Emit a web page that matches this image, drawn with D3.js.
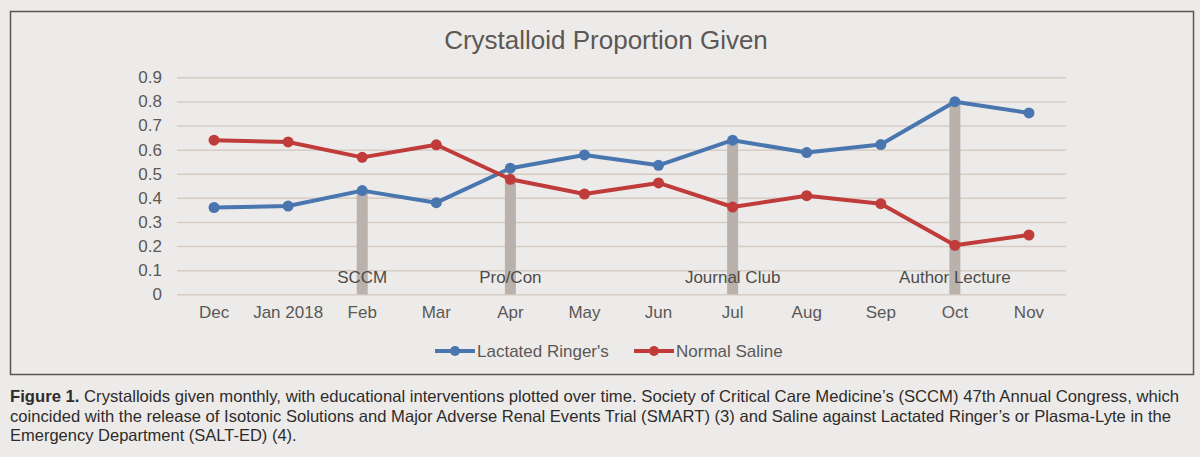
<!DOCTYPE html>
<html>
<head>
<meta charset="utf-8">
<script src="https://cdn.jsdelivr.net/npm/d3@7"></script>
<style>
body { margin: 0; background: #edebe9; }
svg { display: block; font-family: "Liberation Sans", Arial, sans-serif; }
</style>
</head>
<body>
<svg id="chart"></svg>
<script>
var months = ["Dec", "Jan 2018", "Feb", "Mar", "Apr", "May", "Jun", "Jul", "Aug", "Sep", "Oct", "Nov"];
var lactatedRinger = [0.36, 0.366, 0.43, 0.38, 0.523, 0.578, 0.535, 0.639, 0.588, 0.621, 0.799, 0.752];
var normalSaline = [0.639, 0.632, 0.568, 0.62, 0.477, 0.416, 0.462, 0.362, 0.409, 0.376, 0.203, 0.246];
var interventionMonths = ["Feb", "Apr", "Jul", "Oct"];
var interventionNames = ["SCCM", "Pro/Con", "Journal Club", "Author Lecture"];
var interventionValues = [0.43, 0.48, 0.64, 0.80];
var yTicks = [0, 0.1, 0.2, 0.3, 0.4, 0.5, 0.6, 0.7, 0.8, 0.9];
var yTickLabels = ["0", "0.1", "0.2", "0.3", "0.4", "0.5", "0.6", "0.7", "0.8", "0.9"];
var seriesNames = ["Lactated Ringer's", "Normal Saline"];
var captionLines = [
  ["Figure 1.", " Crystalloids given monthly, with educational interventions plotted over time. Society of Critical Care Medicine\u2019s (SCCM) 47th Annual Congress, which"],
  ["", "coincided with the release of Isotonic Solutions and Major Adverse Renal Events Trial (SMART) (3) and Saline against Lactated Ringer\u2019s or Plasma-Lyte in the"],
  ["", "Emergency Department (SALT-ED) (4)."]
];

var width = 1200;
var height = 457;
var blue = "#4a76b0";
var red = "#c03c3b";
var textColor = "#5b5856";

var svg = d3.select("#chart")
  .attr("width", width)
  .attr("height", height);

svg.append("rect")
  .attr("width", width)
  .attr("height", height)
  .attr("fill", "#edebe9");

// frame round the chart
svg.append("rect")
  .attr("x", 10.5)
  .attr("y", 11.5)
  .attr("width", 1183)
  .attr("height", 363)
  .attr("fill", "none")
  .attr("stroke", "#5a5654")
  .attr("stroke-width", 1.5);

var x = d3.scaleBand()
  .domain(months)
  .range([177, 1066]);

var y = d3.scaleLinear()
  .domain([0, 0.9])
  .range([294.3, 77.3]);

var xc = function(m) { return x(m) + x.bandwidth() / 2; };

svg.append("text")
  .text("Crystalloid Proportion Given")
  .attr("x", 606)
  .attr("y", 49)
  .attr("text-anchor", "middle")
  .attr("font-size", 26)
  .attr("fill", textColor);

// gridlines + y labels
var yAxis = svg.append("g")
  .attr("transform", "translate(177,0)")
  .call(d3.axisLeft(y)
    .tickValues(yTicks)
    .tickSize(-889)
    .tickPadding(15)
    .tickFormat(function(d, i) { return yTickLabels[i]; }));
yAxis.select(".domain").remove();
yAxis.selectAll("line")
  .attr("stroke", "#d6ccc4")
  .attr("stroke-width", 1.5);
yAxis.selectAll("text")
  .attr("font-size", 17)
  .attr("font-family", "Liberation Sans, Arial, sans-serif")
  .attr("fill", textColor);

var xAxis = svg.append("g")
  .attr("transform", "translate(0,294.3)")
  .call(d3.axisBottom(x).tickSize(0).tickPadding(12));
xAxis.select(".domain").remove();
xAxis.selectAll("text")
  .attr("font-size", 17)
  .attr("font-family", "Liberation Sans, Arial, sans-serif")
  .attr("fill", textColor);

// intervention bars
svg.selectAll(".bar")
  .data(interventionMonths)
  .enter()
  .append("rect")
  .attr("class", "bar")
  .attr("x", function(d) { return xc(d) - 5.5; })
  .attr("y", function(d, i) { return y(interventionValues[i]); })
  .attr("width", 11)
  .attr("height", function(d, i) { return y(0) - y(interventionValues[i]); })
  .attr("fill", "#b9b2ac");

svg.selectAll(".ilabel")
  .data(interventionMonths)
  .enter()
  .append("text")
  .attr("class", "ilabel")
  .attr("x", function(d) { return xc(d); })
  .attr("y", 283)
  .attr("text-anchor", "middle")
  .attr("font-size", 17)
  .attr("fill", "#4e4b49")
  .text(function(d, i) { return interventionNames[i]; });

var line = d3.line()
  .x(function(d, i) { return xc(months[i]); })
  .y(function(d) { return y(d); });

var series = [lactatedRinger, normalSaline];
var colors = [blue, red];

series.forEach(function(vals, k) {
  svg.append("path")
    .datum(vals)
    .attr("d", line)
    .attr("fill", "none")
    .attr("stroke", colors[k])
    .attr("stroke-width", 4)
    .attr("stroke-linejoin", "round");
  svg.selectAll(".pt" + k)
    .data(vals)
    .enter()
    .append("circle")
    .attr("class", "pt" + k)
    .attr("cx", function(d, i) { return xc(months[i]); })
    .attr("cy", function(d) { return y(d); })
    .attr("r", 5.5)
    .attr("fill", colors[k]);
});

// legend
var legendX = [435, 634];
var legend = svg.selectAll(".leg")
  .data(seriesNames)
  .enter()
  .append("g")
  .attr("class", "leg")
  .attr("transform", function(d, i) { return "translate(" + legendX[i] + ",351)"; });
legend.append("line")
  .attr("x1", 0).attr("x2", 40)
  .attr("stroke", function(d, i) { return colors[i]; })
  .attr("stroke-width", 4);
legend.append("circle")
  .attr("cx", 20)
  .attr("r", 5)
  .attr("fill", function(d, i) { return colors[i]; });
legend.append("text")
  .attr("x", 42)
  .attr("y", 6)
  .attr("font-size", 17)
  .attr("fill", textColor)
  .text(function(d) { return d; });

// caption
var capY = [402, 421.5, 441];
var capLen = [1169, 1161, null];
captionLines.forEach(function(parts, i) {
  var t = svg.append("text")
    .attr("x", 10)
    .attr("y", capY[i])
    .attr("font-size", 16.5)
    .attr("fill", "#2e2c2b");
  if (capLen[i]) {
    t.attr("textLength", capLen[i]).attr("lengthAdjust", "spacingAndGlyphs");
  }
  if (parts[0]) {
    t.append("tspan").attr("font-weight", "bold").text(parts[0]);
  }
  t.append("tspan").text(parts[1]);
});
</script>
</body>
</html>
